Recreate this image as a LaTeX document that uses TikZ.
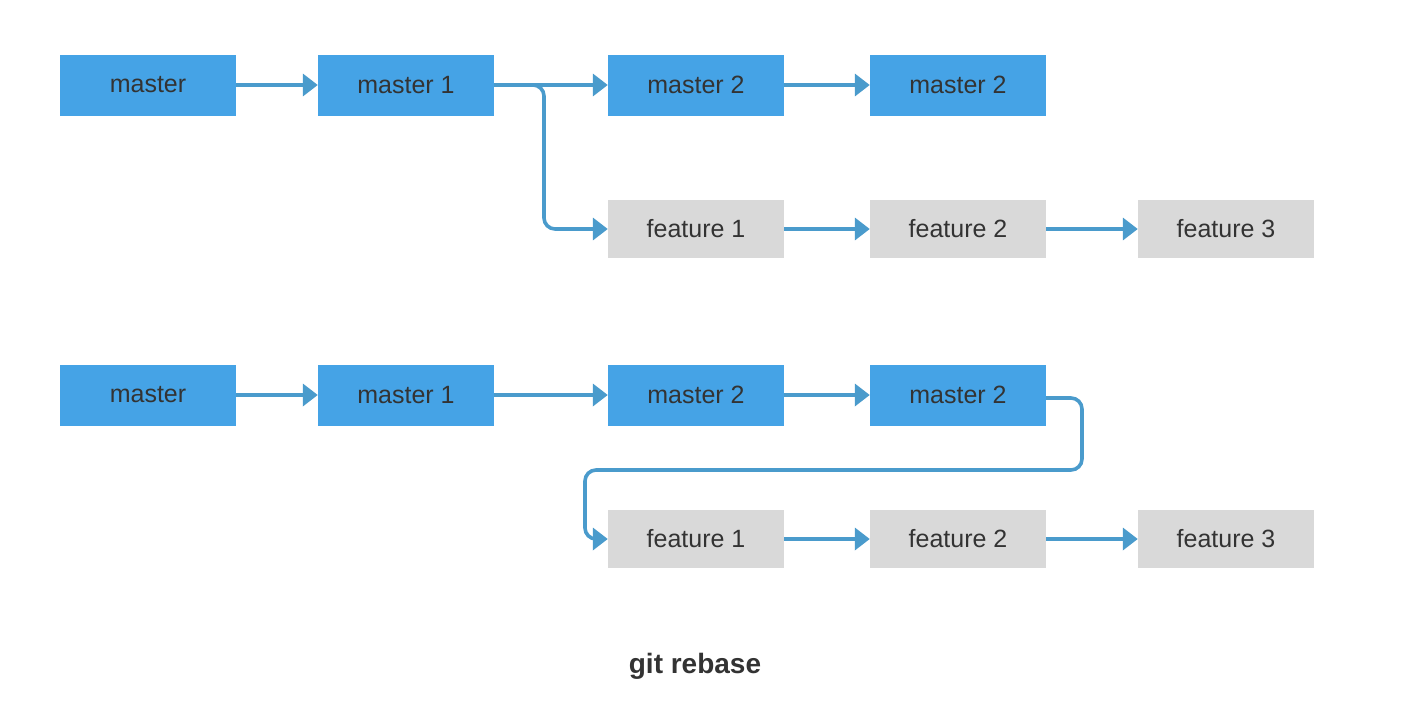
\documentclass[tikz,border=0pt]{standalone}
\usepackage{fontspec}
\setmainfont{Liberation Sans}
\usetikzlibrary{arrows.meta}
\definecolor{mblue}{HTML}{45A3E6}
\definecolor{fgray}{HTML}{D9D9D9}
\definecolor{lineblue}{HTML}{4A9BCC}
\definecolor{txt}{HTML}{333333}
\begin{document}
\begin{tikzpicture}[x=1pt,y=-1pt,
  mbox/.style={fill=mblue,minimum width=176pt,minimum height=61pt,inner sep=0pt,text=txt,font=\fontsize{25}{28}\selectfont},
  fbox/.style={fill=fgray,minimum width=176pt,minimum height=58pt,inner sep=0pt,text=txt,font=\fontsize{25}{28}\selectfont},
  conn/.style={draw=lineblue,line width=3.6pt,rounded corners=11pt,-{Triangle[length=15pt,width=22pt]}}]
\useasboundingbox (0,0) rectangle (1414,716);
\fill[white] (0,0) rectangle (1414,716);
% row 1
\node[mbox] (a1) at (148,85) {master};
\node[mbox] (a2) at (406,85) {master 1};
\node[mbox] (a3) at (696,85) {master 2};
\node[mbox] (a4) at (958,85) {master 2};
\node[fbox] (b1) at (696,229) {feature 1};
\node[fbox] (b2) at (958,229) {feature 2};
\node[fbox] (b3) at (1226,229) {feature 3};
\draw[conn] (a1) -- (a2);
\draw[conn] (a2) -- (a3);
\draw[conn] (a3) -- (a4);
\draw[conn] (a2.east) -- (544,85) -- (544,229) -- (b1.west);
\draw[conn] (b1) -- (b2);
\draw[conn] (b2) -- (b3);
% row 2
\node[mbox] (c1) at (148,395) {master};
\node[mbox] (c2) at (406,395) {master 1};
\node[mbox] (c3) at (696,395) {master 2};
\node[mbox] (c4) at (958,395) {master 2};
\node[fbox] (d1) at (696,539) {feature 1};
\node[fbox] (d2) at (958,539) {feature 2};
\node[fbox] (d3) at (1226,539) {feature 3};
\draw[conn] (c1) -- (c2);
\draw[conn] (c2) -- (c3);
\draw[conn] (c3) -- (c4);
\coordinate (k1) at (1082,398);
\coordinate (k2) at (1082,470);
\coordinate (k3) at (585,470);
\coordinate (k4) at (585,539);
\draw[conn] (c4.east |- k1) -- (k1) -- (k2) -- (k3) -- (k4) -- (d1.west);
\draw[conn] (d1) -- (d2);
\draw[conn] (d2) -- (d3);
\node[text=txt,font=\bfseries\fontsize{28}{32}\selectfont] (title) at (695,666) {git rebase};
\end{tikzpicture}
\end{document}
